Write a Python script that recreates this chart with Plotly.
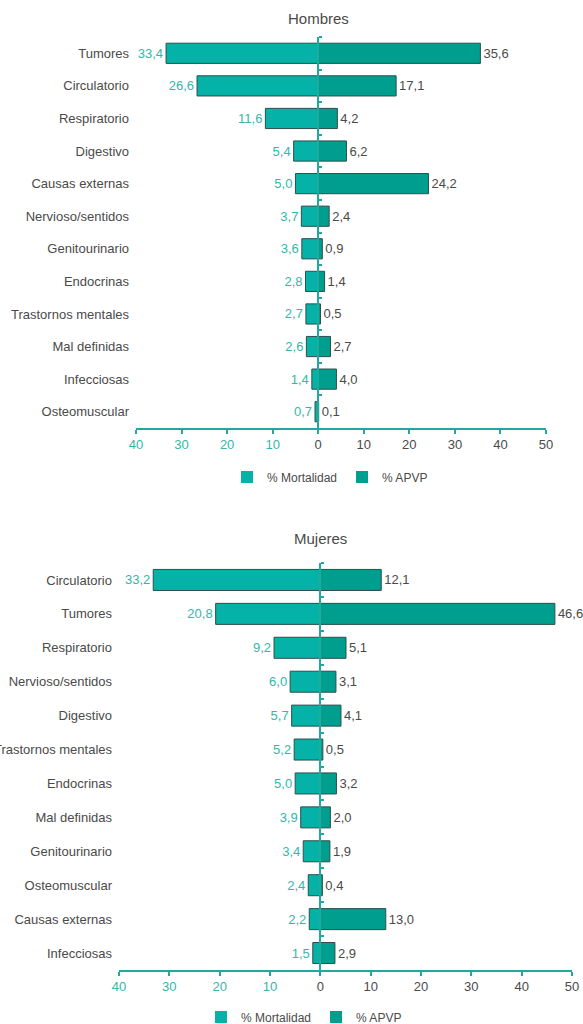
import plotly.graph_objects as go

# ---------------- data ----------------
hombres_cats = ["Tumores", "Circulatorio", "Respiratorio", "Digestivo", "Causas externas",
                "Nervioso/sentidos", "Genitourinario", "Endocrinas", "Trastornos mentales",
                "Mal definidas", "Infecciosas", "Osteomuscular"]
hombres_mort = [33.4, 26.6, 11.6, 5.4, 5.0, 3.7, 3.6, 2.8, 2.7, 2.6, 1.4, 0.7]
hombres_apvp = [35.6, 17.1, 4.2, 6.2, 24.2, 2.4, 0.9, 1.4, 0.5, 2.7, 4.0, 0.1]

mujeres_cats = ["Circulatorio", "Tumores", "Respiratorio", "Nervioso/sentidos", "Digestivo",
                "Trastornos mentales", "Endocrinas", "Mal definidas", "Genitourinario",
                "Osteomuscular", "Causas externas", "Infecciosas"]
mujeres_mort = [33.2, 20.8, 9.2, 6.0, 5.7, 5.2, 5.0, 3.9, 3.4, 2.4, 2.2, 1.5]
mujeres_apvp = [12.1, 46.6, 5.1, 3.1, 4.1, 0.5, 3.2, 2.0, 1.9, 0.4, 13.0, 2.9]

x_ticks = [-40, -30, -20, -10, 0, 10, 20, 30, 40, 50]
titles = ["Hombres", "Mujeres"]
legend_names = ["% Mortalidad", "% APVP"]

# ---------------- style ----------------
W, H = 583, 1024
C_MORT = "#05B2A7"
C_APVP = "#009E8F"
C_OUT = "#2E4F4B"
C_AXIS = "#1FAA9C"
C_TEAL_TXT = "#33B7A9"
C_GRAY = "#4a4a4a"
FONT = "Liberation Sans"


def fmt(v):
    return f"{v:.1f}".replace(".", ",")


def tick_text(v):
    if v < 0:
        return f"<span style='color:{C_TEAL_TXT}'>{abs(v)}</span>"
    return str(v)


# panel geometry in pixels: (x_left, x_right, y_top, y_bottom)
panels = [(136, 546, 37, 428), (119, 572, 563, 970)]
legend_pos = [(330, 477), (304, 1017)]
title_y = [18, 538]

fig = go.Figure()
data = [(hombres_cats, hombres_mort, hombres_apvp), (mujeres_cats, mujeres_mort, mujeres_apvp)]

layout = dict(
    width=W, height=H,
    margin=dict(l=0, r=0, t=0, b=0, autoexpand=False),
    paper_bgcolor="white", plot_bgcolor="white",
    font=dict(family=FONT, size=13, color=C_GRAY),
    barmode="overlay",
    bargap=0.38,
    showlegend=True,
    annotations=[],
)

for i, (cats, mort, apvp) in enumerate(data):
    xl, xr, yt, yb = panels[i]
    xdom = [xl / W, xr / W]
    ydom = [1 - yb / H, 1 - yt / H]
    xa = "x" if i == 0 else "x2"
    ya = "y" if i == 0 else "y3"
    ya_over = "y2" if i == 0 else "y4"
    xkey = "xaxis" if i == 0 else "xaxis2"
    ykey = "yaxis" if i == 0 else "yaxis3"
    yokey = "yaxis2" if i == 0 else "yaxis4"
    lg = "legend" if i == 0 else "legend2"
    n = len(cats)

    fig.add_trace(go.Bar(
        y=cats, x=[-v for v in mort], orientation="h",
        marker=dict(color=C_MORT, line=dict(color=C_OUT, width=1)),
        text=[fmt(v) for v in mort], textposition="outside",
        textfont=dict(color=C_TEAL_TXT, size=13, family=FONT),
        constraintext="none", cliponaxis=False,
        name=legend_names[0], showlegend=False, hoverinfo="skip",
        xaxis=xa, yaxis=ya_over,
    ))
    fig.add_trace(go.Bar(
        y=cats, x=apvp, orientation="h",
        marker=dict(color=C_APVP, line=dict(color=C_OUT, width=1)),
        text=[fmt(v) for v in apvp], textposition="outside",
        textfont=dict(color=C_GRAY, size=13, family=FONT),
        constraintext="none", cliponaxis=False,
        name=legend_names[1], showlegend=False, hoverinfo="skip",
        xaxis=xa, yaxis=ya,
    ))
    # legend entries (plain swatches, no outline)
    for name, col in zip(legend_names, [C_MORT, C_APVP]):
        fig.add_trace(go.Bar(
            y=[None], x=[None], orientation="h",
            marker=dict(color=col, line=dict(width=0)),
            name=name, legend=lg, showlegend=True, hoverinfo="skip",
            xaxis=xa, yaxis=ya,
        ))

    xmin, xmax = x_ticks[0], x_ticks[-1]
    layout[xkey] = dict(
        domain=xdom, anchor=ya, range=[xmin, xmax],
        tickvals=x_ticks, ticktext=[tick_text(v) for v in x_ticks],
        showgrid=False, zeroline=False,
        showline=True, linecolor=C_AXIS, linewidth=1.5,
        ticks="outside", ticklen=4, tickcolor=C_AXIS, tickwidth=1.5,
        tickfont=dict(size=13, color=C_GRAY, family=FONT),
        automargin=False, fixedrange=True,
    )
    layout[ykey] = dict(
        domain=ydom, anchor=xa, type="category",
        categoryorder="array", categoryarray=cats,
        range=[n - 0.5, -0.5],
        showgrid=False, zeroline=False, showline=False, ticks="",
        ticklabelstandoff=6,
        tickfont=dict(size=13, color=C_GRAY, family=FONT),
        automargin=False, fixedrange=True,
    )
    zero_pos = xdom[0] + (xdom[1] - xdom[0]) * (0 - xmin) / (xmax - xmin)
    layout[yokey] = dict(
        overlaying=ya, anchor="free", position=zero_pos, side="right",
        type="category", categoryorder="array", categoryarray=cats,
        range=[n - 0.5, -0.5],
        showgrid=False, zeroline=False,
        showline=True, linecolor=C_AXIS, linewidth=1.5,
        ticks="outside", tickson="boundaries", ticklen=3, tickcolor=C_AXIS, tickwidth=1.5,
        showticklabels=False, layer="above traces",
        automargin=False, fixedrange=True,
    )
    lx, ly = legend_pos[i]
    layout[lg] = dict(
        orientation="h", x=lx / W, y=1 - ly / H, xanchor="center", yanchor="middle",
        font=dict(size=12, color=C_GRAY, family=FONT),
        itemwidth=30, tracegroupgap=0,
        bgcolor="rgba(0,0,0,0)", itemclick=False, itemdoubleclick=False,
    )
    layout["annotations"].append(dict(
        text=titles[i], xref="paper", yref="paper",
        x=zero_pos, y=1 - title_y[i] / H, xanchor="center", yanchor="middle",
        showarrow=False, font=dict(size=15, color=C_GRAY, family=FONT),
    ))

fig.update_layout(**layout)
fig.write_html(
    "out.html",
    config={"displayModeBar": False},
    post_script="document.body.style.margin='0';document.body.style.overflow='hidden';",
)
